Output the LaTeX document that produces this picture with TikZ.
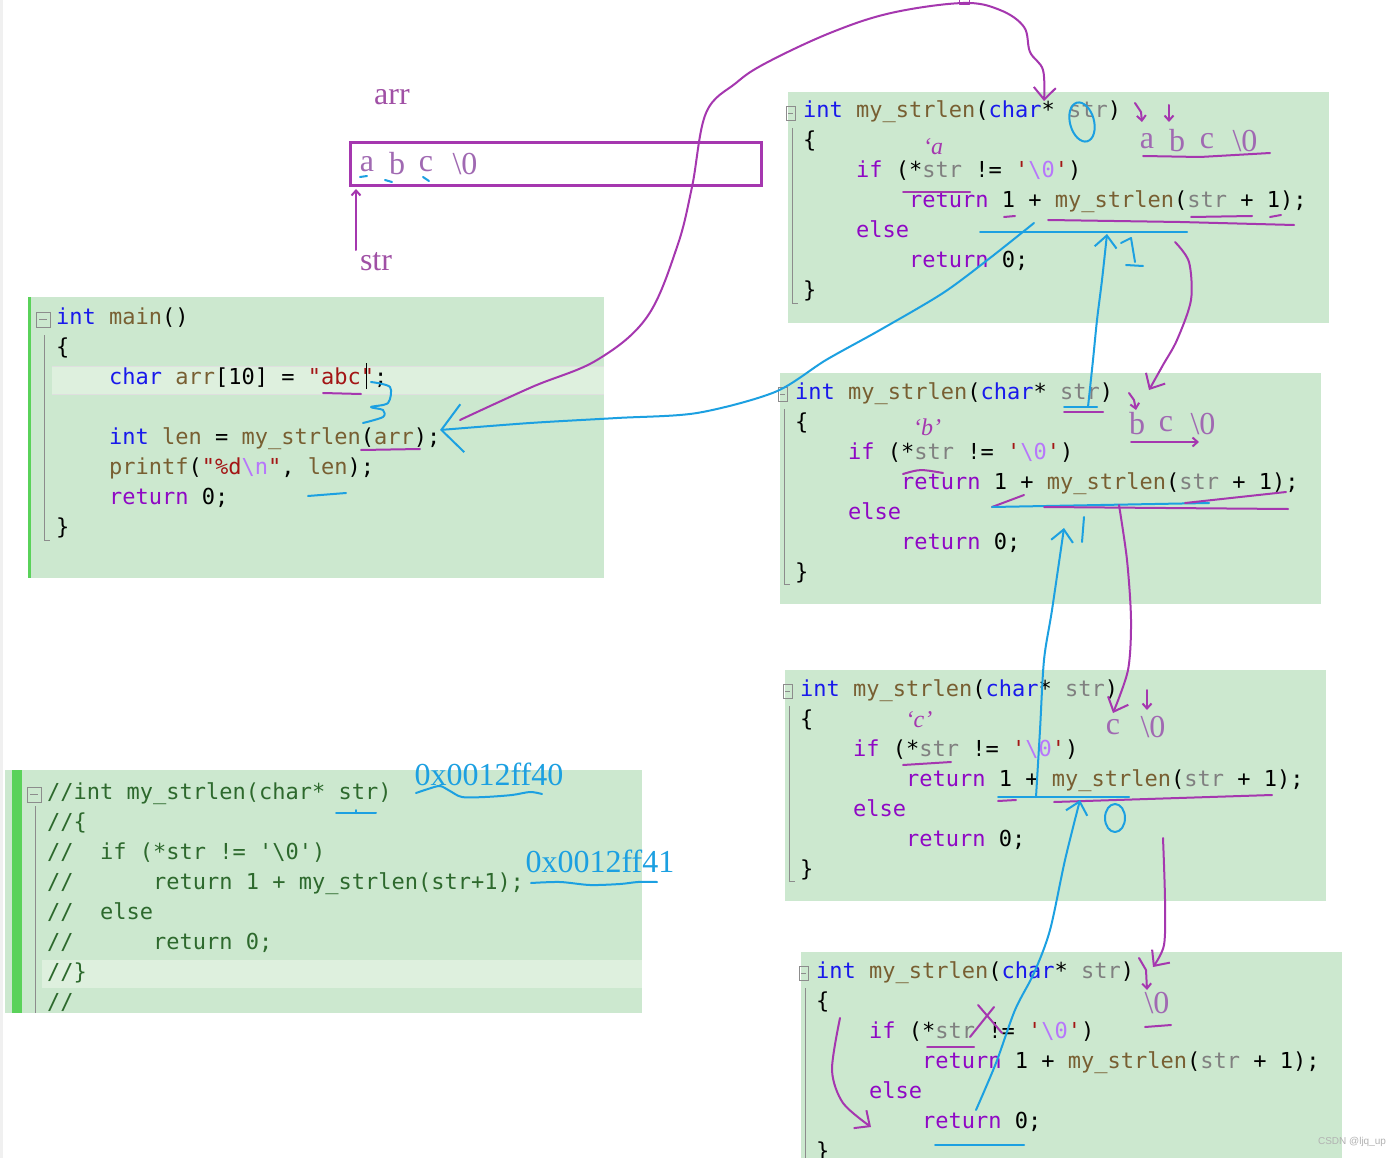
\documentclass[tikz,border=0pt]{standalone}
\usepackage{fontspec}
\setmainfont{Liberation Serif}
\setmonofont{DejaVu Sans Mono}
\newfontfamily\marksans{Liberation Sans}
\usetikzlibrary{arrows.meta}

\definecolor{codebg}{RGB}{204,232,207}
\definecolor{hlgreen}{RGB}{222,240,222}
\definecolor{bargreen}{RGB}{90,210,90}
\definecolor{kwblue}{RGB}{25,25,235}
\definecolor{fnbrown}{RGB}{120,95,50}
\definecolor{vargray}{RGB}{128,128,128}
\definecolor{ctlpurple}{RGB}{143,8,196}
\definecolor{strred}{RGB}{163,21,21}
\definecolor{escpurple}{RGB}{183,118,251}
\definecolor{cmtgreen}{RGB}{45,105,45}
\definecolor{penpurple}{RGB}{165,55,175}
\definecolor{penblue}{RGB}{28,160,225}
\definecolor{labpurple}{RGB}{160,80,165}
\definecolor{cellpurple}{RGB}{160,105,178}
\definecolor{foldgray}{RGB}{140,140,140}

\newcommand{\codefont}{\ttfamily\fontsize{22}{30}\selectfont}
\newcommand{\labfont}{\fontsize{32}{36}\selectfont}
\newcommand{\kw}[1]{\textcolor{kwblue}{#1}}
\newcommand{\fn}[1]{\textcolor{fnbrown}{#1}}
\newcommand{\vr}[1]{\textcolor{vargray}{#1}}
\newcommand{\ctl}[1]{\textcolor{ctlpurple}{#1}}
\newcommand{\st}[1]{\textcolor{strred}{#1}}
\newcommand{\esc}[1]{\textcolor{escpurple}{#1}}

% one frame of my_strlen, #1/#2 = top left of the panel, #3 = name prefix
\newcommand{\recpanel}[3]{%
  \begin{scope}[shift={(#1,#2)}]
    \fill[codebg] (0,0) rectangle (541,231);
    \draw[foldgray] (-2,14) rectangle (7,28);
    \draw[foldgray] (0,21) -- (5,21);
    \draw[foldgray] (4,36) -- (4,211) -- (10,211);
    \node[codeline] (#3-0) at (15,26) {\kw{int} \fn{my\_strlen}(\kw{char}* \vr{str})};
    \node[codeline] (#3-1) at (15,56) {\{};
    \node[codeline] (#3-2) at (68,86) {\ctl{if} (*\vr{str} != \st{'}\esc{\textbackslash 0}\st{'})};
    \node[codeline] (#3-3) at (121,116) {\ctl{return} 1 + \fn{my\_strlen}(\vr{str} + 1);};
    \node[codeline] (#3-4) at (68,146) {\ctl{else}};
    \node[codeline] (#3-5) at (121,176) {\ctl{return} 0;};
    \node[codeline] (#3-6) at (15,206) {\}};
  \end{scope}}

\begin{document}
\begin{tikzpicture}[x=1pt,y=-1pt,
    codeline/.style={anchor=base west, inner sep=0pt, font=\codefont},
    lab/.style={inner sep=0pt, font=\labfont},
    hand/.style={inner sep=0pt, font=\itshape\fontsize{24}{26}\selectfont, text=penpurple},
    ppen/.style={draw=penpurple, line width=2pt, line cap=round, line join=round},
    bpen/.style={draw=penblue, line width=2pt, line cap=round, line join=round},
    barb/.style={-{Straight Barb[length=12pt,width=22pt]}},
    tinybarb/.style={-{Straight Barb[length=5pt,width=9pt]}},
    bigbarb/.style={-{Straight Barb[length=21pt,width=48pt]}}]
  \useasboundingbox (0,0) rectangle (1400,1158);
  \fill[white] (0,0) rectangle (1400,1158);
  \fill[gray!12] (0,0) rectangle (3,1158);

  % array in memory
  \node[lab, text=labpurple] (arr) at (392,97) {arr};
  \draw[draw=penpurple, line width=3pt] (350,143) rectangle (761,186);
  \coordinate (box-sw) at (356,189);
  \foreach \ch/\xx [count=\i] in {a/367,b/397,c/426,\textbackslash 0/465}
    \node[lab, text=cellpurple] (cell-\i) at (\xx,164) {\ch};
  \draw[bpen] (360,177) -- (367,176);
  \draw[bpen] (385,180) -- (392,182);
  \draw[bpen] (423,177) -- (429,181);
  \node[lab, text=labpurple] (str) at (376,262) {str};
  \coordinate (strTip) at (356,250);
  \draw[ppen, tinybarb] (strTip) -- (box-sw);

  % main
  \fill[codebg] (28,297) rectangle (604,578);
  \fill[bargreen] (28,297) rectangle (31,578);
  \fill[hlgreen] (52,366) rectangle (604,394);
  \draw[gray!25] (52,366) -- (604,366) (52,394) -- (604,394);
  \draw[foldgray] (36,312) rectangle (50,327);
  \draw[foldgray] (39,319.5) -- (47,319.5);
  \draw[foldgray] (44,335) -- (44,540) -- (50,540);
  \node[codeline] (main-0) at (56,324) {\kw{int} \fn{main}()};
  \node[codeline] (main-1) at (56,354) {\{};
  \node[codeline] (main-2) at (109,384) {\kw{char} \fn{arr}[10] = \st{"abc"};};
  \node[codeline] (main-4) at (109,444) {\kw{int} \fn{len} = \fn{my\_strlen}(\fn{arr});};
  \node[codeline] (main-5) at (109,474) {\fn{printf}(\st{"\%d}\esc{\textbackslash n}\st{"}, \fn{len});};
  \node[codeline] (main-6) at (109,504) {\ctl{return} 0;};
  \node[codeline] (main-7) at (56,534) {\}};
  \draw[black, line width=1pt] (366,363) -- (366,389);
  \draw[ppen] (323,393) -- (361,394);
  \draw[bpen] plot[smooth] coordinates {(371,382) (390,387) (388,403) (371,407) (383,410) (383,417) (363,423)};
  \draw[ppen] (361,450) -- (420,449);
  \draw[bpen] (308,496) -- (346,493);

  % commented copy
  \begin{scope}
    \clip (5,770) rectangle (642,1013);
    \fill[codebg] (5,770) rectangle (642,1013);
    \fill[bargreen] (12,770) rectangle (22,1013);
    \fill[hlgreen] (42,960) rectangle (642,988);
    \draw[foldgray] (27,787) rectangle (41,802);
    \draw[foldgray] (30,794.5) -- (38,794.5);
    \draw[foldgray] (35,806) -- (35,1013);
    \foreach \txt [count=\k from 0] in {%
        //int my\_strlen(char* str),
        //\{,
        //\ \ if (*str != '\textbackslash 0'),
        //\ \ \ \ \ \ return 1 + my\_strlen(str+1);,
        //\ \ else,
        //\ \ \ \ \ \ return 0;,
        //\},
        //}
      \node[codeline, text=cmtgreen] (cmt-\k) at (47,799+30*\k) {\txt};
  \end{scope}
  \node[lab, text=penblue] (addr0) at (489,774) {0x0012ff40};
  \node[lab, text=penblue] (addr1) at (600,861) {0x0012ff41};
  \draw[bpen] plot[smooth] coordinates {(416,793) (428,789) (440,786) (450,791) (462,797) (485,797) (512,795) (530,792) (542,794)};
  \draw[bpen] (336,813) -- (376,813) (356,813) -- (356,810);
  \draw[bpen] plot[smooth] coordinates {(531,883) (560,882) (590,885) (620,884) (638,882) (657,882)};

  % recursion frames
  \recpanel{788}{92}{fa}
  \recpanel{780}{373}{fb}
  \recpanel{785}{670}{fc}
  \recpanel{801}{952}{fd}

  % call main -> frame a
  \coordinate (callFrom) at (460,420);
  \coordinate (faIn) at (1044,101);
  \draw[ppen, barb] plot[smooth, tension=0.6] coordinates {(callFrom) (532,387) (597,360) (647,317) (677,247) (692,187) (706,113) (736,83) (766,63) (830,33) (891,13) (963,3) (1000,10) (1024,27) (1030,52) (1043,70) (faIn)};
  \draw[ppen, line width=1pt] (959,-1) rectangle (969,5);
  % return frame a -> main
  \coordinate (faOut) at (1034,223);
  \coordinate (callTo) at (440,430);
  \draw[bpen, bigbarb] plot[smooth] coordinates {(faOut) (990,258) (943,293) (880,330) (826,360) (775,392) (697,413) (617,418) (530,423) (callTo)};

  % frame a notes
  \draw[bpen, rotate around={15:(1082,122)}] (1082,122) ellipse [x radius=12, y radius=20];
  \draw[bpen] (980,232) -- (1187,232);
  \draw[bpen] (1121,243) -- (1131,238) -- (1135,262) (1126,265) -- (1143,266);
  \draw[ppen] (903,192) -- (970,192);
  \draw[ppen] (1004,217) -- (1015,216);
  \draw[ppen] (1048,220) -- (1180,222) -- (1294,225);
  \draw[ppen] (1191,217) -- (1252,216);
  \draw[ppen] (1270,217) -- (1281,215);
  \draw[ppen, tinybarb] (1135,103) -- (1141,112) -- (1142,122);
  \draw[ppen, tinybarb] (1169,105) -- (1169,122);
  \node[hand] (qa) at (933,147) {`a};
  \foreach \ch/\xx [count=\i] in {a/1147,b/1177,c/1207,\textbackslash 0/1245}
    \node[lab, text=cellpurple] (fa-c\i) at (\xx,141) {\ch};
  \draw[ppen] (1143,156) -- (1200,157) -- (1270,153);
  \coordinate (faNext) at (1175,242);
  \coordinate (fbIn) at (1149,390);
  \draw[ppen, barb] plot[smooth] coordinates {(faNext) (1189,262) (1191,300) (1177,340) (1163,365) (fbIn)};
  \coordinate (fbStr) at (1088,407);
  \coordinate (faRet) at (1107,234);
  \draw[bpen, barb] plot[smooth] coordinates {(fbStr) (1093,360) (1097,320) (1102,280) (faRet)};

  % frame b notes
  \draw[ppen, tinybarb] (1129,393) -- (1134,400) -- (1136,410);
  \node[hand] (qb) at (927,427) {`b'};
  \foreach \ch/\xx [count=\i] in {b/1137,c/1166,\textbackslash 0/1203}
    \node[lab, text=cellpurple] (fb-c\i) at (\xx,424) {\ch};
  \draw[ppen, tinybarb] (1131,442) -- (1199,442);
  \draw[ppen] (1064,412) -- (1103,412);
  \draw[bpen] (1064,407) -- (1097,407);
  \draw[ppen] (903,474) .. controls (920,469) .. (943,473);
  \draw[ppen] (992,507) -- (1024,495);
  \draw[bpen] (992,507) -- (1209,503);
  \draw[ppen] (1044,507) -- (1288,509);
  \draw[ppen] (1185,503) -- (1286,492);
  \draw[bpen] (1084,517) -- (1082,542);
  \coordinate (fbNext) at (1119,505);
  \coordinate (fcIn) at (1113,713);
  \draw[ppen, barb] plot[smooth] coordinates {(fbNext) (1127,560) (1131,620) (1128,670) (fcIn)};
  \coordinate (fcRet) at (1036,797);
  \coordinate (fbRet) at (1064,528);
  \draw[bpen, barb] plot[smooth] coordinates {(fcRet) (1040,730) (1044,660) (1052,610) (fbRet)};

  % frame c notes
  \draw[ppen, tinybarb] (1147,690) -- (1147,710);
  \node[hand] (qc) at (919,720) {`c'};
  \node[lab, text=cellpurple] (fc-c1) at (1113,727) {c};
  \node[lab, text=cellpurple] (fc-c2) at (1153,727) {\textbackslash 0};
  \draw[ppen] (903,765) -- (951,762);
  \draw[bpen] (998,797) -- (1129,797);
  \draw[ppen] (998,801) -- (1016,800);
  \draw[ppen] (1054,802) -- (1272,795);
  \draw[bpen] (1115,818) ellipse [x radius=10, y radius=14];
  \coordinate (fdRet) at (976,1110);
  \coordinate (fcRetIn) at (1080,800);
  \draw[bpen, barb] plot[smooth] coordinates {(fdRet) (996,1063) (1015,1010) (1034,973) (1050,930) (1065,860) (fcRetIn)};
  \coordinate (fcNext) at (1163,838);
  \coordinate (fdIn) at (1153,967);
  \draw[ppen, barb] plot[smooth] coordinates {(fcNext) (1165,900) (1164,945) (fdIn)};

  % frame d notes
  \draw[ppen, tinybarb] (1139,958) -- (1146,970) -- (1147,990);
  \node[lab, text=cellpurple] (fd-c1) at (1157,1003) {\textbackslash 0};
  \draw[ppen] (1145,1027) -- (1171,1025);
  \draw[ppen] (970,1037) -- (994,1007);
  \draw[ppen] (978,1005) -- (1002,1033);
  \draw[ppen] (927,1047) -- (974,1047);
  \coordinate (fdIf) at (840,1018);
  \coordinate (fdZero) at (871,1127);
  \draw[ppen, barb] plot[smooth] coordinates {(fdIf) (832,1070) (843,1103) (fdZero)};
  \draw[bpen] (935,1145) -- (1024,1145);

  \node[font=\marksans\fontsize{10}{12}\selectfont, text=gray!60] (mark) at (1352,1142) {CSDN @ljq\_up};
\end{tikzpicture}
\end{document}
